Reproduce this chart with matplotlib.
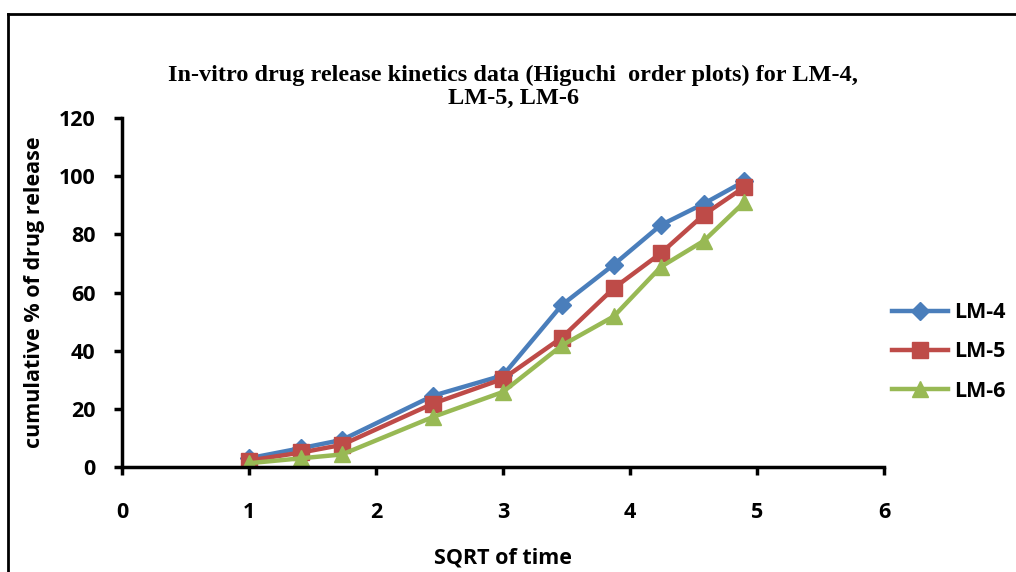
import numpy as np
import matplotlib.pyplot as plt
from matplotlib.lines import Line2D

# square root of sampling time
sqrt_time = [1.0, 1.414, 1.732, 2.449, 3.0, 3.464, 3.873, 4.243, 4.583, 4.899]

# cumulative % drug release per formulation
lm4 = [3.0, 6.5, 9.3, 24.5, 31.5, 55.7, 69.6, 83.2, 90.6, 98.2]
lm5 = [2.2, 5.0, 7.6, 21.8, 30.3, 44.5, 61.5, 73.5, 86.8, 96.2]
lm6 = [1.3, 3.0, 4.3, 17.2, 25.8, 41.8, 51.8, 68.8, 77.8, 91.0]

series_names = ['LM-4', 'LM-5', 'LM-6']
x_ticks = [0, 1, 2, 3, 4, 5, 6]
y_ticks = [0, 20, 40, 60, 80, 100, 120]

colors = ['#4A7EBB', '#BE4B48', '#98B954']
markers = ['D', 's', '^']
msizes = [9, 11, 12]

label_font = 'Open Sans'

fig = plt.figure(figsize=(10.16, 5.72), dpi=100)
ax = fig.add_axes([0.120, 0.1836, 0.750, 0.610])

for vals, name, c, m, ms in zip([lm4, lm5, lm6], series_names, colors, markers, msizes):
    ax.plot(sqrt_time, vals, color=c, lw=3.2, marker=m, markersize=ms,
            markerfacecolor=c, markeredgecolor=c, label=name)

ax.set_xlim(0, 6)
ax.set_ylim(0, 120)
ax.set_xticks(x_ticks)
ax.set_yticks(y_ticks)

for s in ['top', 'right']:
    ax.spines[s].set_visible(False)
for s in ['left', 'bottom']:
    ax.spines[s].set_linewidth(2.5)
    ax.spines[s].set_color('black')

ax.tick_params(axis='x', direction='out', length=6, width=2.5, pad=19)
ax.tick_params(axis='y', direction='out', length=6, width=2.5, pad=13)
for lab in ax.get_xticklabels() + ax.get_yticklabels():
    lab.set_fontfamily(label_font)
    lab.set_fontweight('bold')
    lab.set_fontsize(15.5)

ax.set_xlabel('SQRT of time', fontfamily=label_font, fontweight='bold',
              fontsize=15.5, labelpad=18)
ax.set_ylabel('cumulative % of drug release', fontfamily=label_font,
              fontweight='bold', fontsize=15.5, labelpad=10)

fig.text(0.505, 0.848, 'In-vitro drug release kinetics data (Higuchi  order plots) for LM-4,\nLM-5, LM-6',
         ha='center', va='center', fontfamily='Liberation Serif', fontweight='bold',
         fontsize=17.5, linespacing=1.15)

leg = ax.legend(loc='center left', bbox_to_anchor=(0.985, 0.33), frameon=False,
                prop={'family': label_font, 'weight': 'bold', 'size': 15.5},
                handlelength=2.6, labelspacing=0.85, handletextpad=0.3)

# outer frame (left and top edges)
fig.add_artist(Line2D([0.008, 0.008], [0.0, 0.976], color='black', lw=2,
                      transform=fig.transFigure))
fig.add_artist(Line2D([0.008, 1.0], [0.976, 0.976], color='black', lw=2,
                      transform=fig.transFigure))

fig.savefig('out.png', dpi=100)
